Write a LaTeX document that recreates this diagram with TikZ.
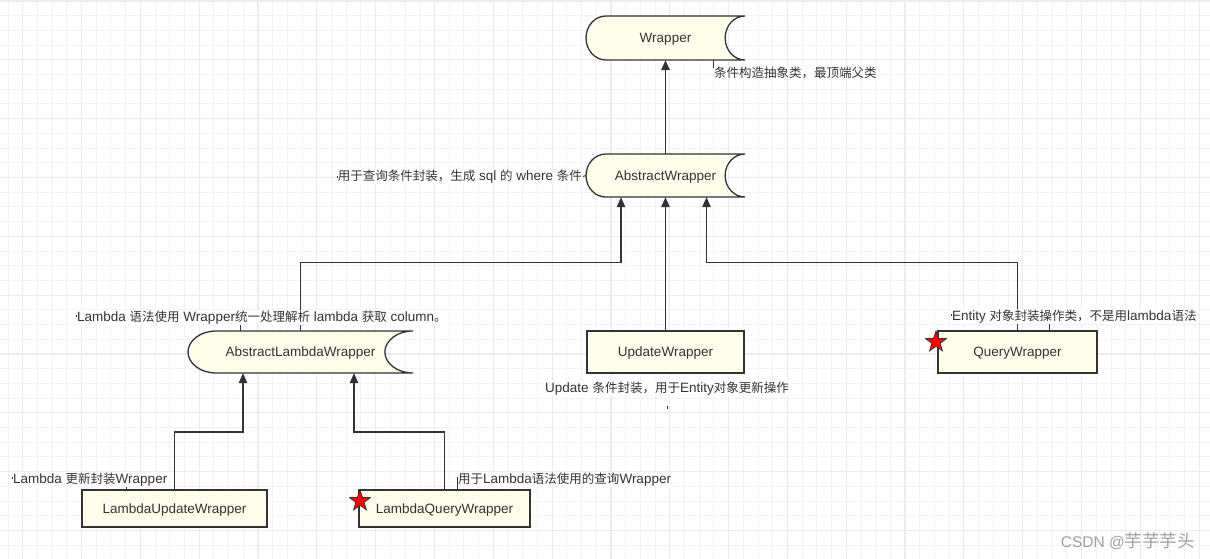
\documentclass[tikz,border=0pt]{standalone}
\usepackage{fontspec}
\setmainfont{Liberation Sans}
\newfontfamily\cjk[Scale=0.926]{Noto Sans CJK SC}
\newfontfamily\cjkw{Noto Sans CJK SC}
\usetikzlibrary{arrows.meta,shapes.geometric,calc}
\definecolor{ink}{HTML}{333333}
\definecolor{boxfill}{HTML}{FEFEEC}
\definecolor{gridmin}{HTML}{F3F3F3}
\definecolor{gridmaj}{HTML}{ECECEC}
\definecolor{wmark}{HTML}{A0A0A0}
\newcommand\zh[1]{{\cjk #1}}
\tikzset{
  every node/.style={font=\fontsize{13.5}{16}\selectfont},
  conn/.style={draw=ink, line width=1.3pt, -{Triangle[length=10pt,width=8.5pt]}},
  boxnode/.style={draw=ink, fill=boxfill, line width=1.3pt, inner sep=0pt, text=ink, text depth=0pt},
  sdnode/.style={inner sep=0pt, text=ink, text depth=0pt},
  sdpath/.style={draw=ink, fill=boxfill, line width=1.3pt},
  notelab/.style={fill=white, inner sep=1pt, text=ink},
  notetick/.style={draw=ink, line width=0.9pt},
  redstar/.style={star, star points=5, star point ratio=2.5, minimum size=22pt, inner sep=0pt, fill=red, draw=ink, line width=0.7pt},
  gridminor/.style={draw=gridmin, line width=0.9pt},
  gridmajor/.style={draw=gridmaj, line width=1.2pt}
}
% stored-data shape: name, x1, y1, x2, y2, text  (pixel coordinates, y downwards)
\newcommand\sdshape[6]{%
  \pgfmathsetmacro\sdr{0.125*(#4-#2)}%
  \pgfmathsetmacro\sdry{(#5-#3)/2}%
  \pgfmathsetmacro\sdym{(#3+#5)/2}%
  \pgfmathsetmacro\sdkr{0.5523*\sdr}%
  \pgfmathsetmacro\sdky{0.5523*\sdry}%
  \pgfmathsetmacro\sdw{#4-#2}%
  \pgfmathsetmacro\sdh{#5-#3}%
  \pgfmathsetmacro\sdcx{(#2+#4)/2}%
  \path[sdpath] ({#2+\sdr},#3) -- (#4,#3)
    .. controls ({#4-\sdkr},#3) and ({#4-\sdr},{\sdym-\sdky}) .. ({#4-\sdr},\sdym)
    .. controls ({#4-\sdr},{\sdym+\sdky}) and ({#4-\sdkr},#5) .. (#4,#5)
    -- ({#2+\sdr},#5)
    .. controls ({#2+\sdr-\sdkr},#5) and (#2,{\sdym+\sdky}) .. (#2,\sdym)
    .. controls (#2,{\sdym-\sdky}) and ({#2+\sdr-\sdkr},#3) .. ({#2+\sdr},#3) -- cycle;
  \node[sdnode, minimum width=\sdw pt, minimum height=\sdh pt] (#1) at (\sdcx,\sdym) {#6};
}
\begin{document}
\begin{tikzpicture}[x=1pt,y=-1pt]
\useasboundingbox (0,0) rectangle (1210,559);
\fill[white] (0,0) rectangle (1210,559);
% grid
\foreach \i in {0,...,81} { \draw[gridminor] ({8+14.706*\i},0) -- ({8+14.706*\i},559); }
\foreach \j in {0,...,37} { \draw[gridminor] (0,{1+14.706*\j}) -- (1210,{1+14.706*\j}); }
\foreach \i in {0,...,20} { \draw[gridmajor] ({22.7+58.824*\i},0) -- ({22.7+58.824*\i},559); }
\foreach \j in {0,...,9} { \draw[gridmajor] (0,{1+58.824*\j}) -- (1210,{1+58.824*\j}); }

% shapes
\sdshape{W}{586}{16}{745}{60}{Wrapper}
\sdshape{AW}{586}{154}{745}{197}{AbstractWrapper}
\sdshape{ALW}{188}{331}{413}{373}{AbstractLambdaWrapper}
\node[boxnode, minimum width=157pt, minimum height=42pt] (UW) at (665.5,352) {UpdateWrapper};
\node[boxnode, minimum width=159pt, minimum height=42pt] (QW) at (1017.5,352) {QueryWrapper};
\node[boxnode, minimum width=185pt, minimum height=37pt] (LUW) at (174.5,508.5) {LambdaUpdateWrapper};
\node[boxnode, minimum width=171pt, minimum height=37pt] (LQW) at (444.5,508.5) {LambdaQueryWrapper};

% connectors
\draw[conn] (AW.north) -- (W.south);
\draw[conn] (ALW.north) -- ++(0,-68) -| ([xshift=-44.5pt]AW.south);
\draw[conn] (UW.north) -- (AW.south);
\draw[conn] (QW.north) -- ++(0,-68) -| ([xshift=41pt]AW.south);
\draw[conn] (LUW.north) -- ++(0,-57.3) -| ([xshift=-57.5pt]ALW.south);
\draw[conn] (LQW.north) -- ++(0,-57.3) -| ([xshift=53.5pt]ALW.south);

% annotations
\node[notelab, anchor=west] (a1) at (713,72.5) {\zh{条件构造抽象类，最顶端父类}};
\node[notelab, anchor=east] (a2) at (583,176.5) {\zh{用于查询条件封装，生成} sql \zh{的} where \zh{条件}};
\node[notelab, anchor=west] (a3) at (76,317.5) {Lambda \zh{语法使用} Wrapper\zh{统一处理解析} lambda \zh{获取} column\zh{。}};
\node[notelab] (a4) at (667,388.5) {Update \zh{条件封装，用于}Entity\zh{对象更新操作}};
\node[notelab, anchor=west] (a5) at (951,316.5) {Entity \zh{对象封装操作类，不是用}lambda\zh{语法}};
\node[notelab, anchor=west] (a6) at (12,479.5) {Lambda \zh{更新封装}Wrapper};
\node[notelab, anchor=west] (a7) at (457,479.5) {\zh{用于}Lambda\zh{语法使用的查询}Wrapper};

% annotation ticks
\draw[notetick] (a1.west |- W.south) -- ([yshift=4pt]a1.west);
\draw[notetick] (a2.east) -- (AW.west);
\draw[notetick] ([xshift=-60.5pt]ALW.north) -- ([xshift=-60.5pt]ALW.north |- a3.south);
\draw[notetick] ([xshift=31.5pt]QW.north) -- ([xshift=31.5pt]QW.north |- a5.south);
\draw[notetick] ([xshift=-47.8pt]LUW.north) -- ([xshift=-47.8pt]LUW.north |- a6.south);
\draw[notetick] ([yshift=3pt]a7.west) -- (a7.west |- LQW.north);
\draw[notetick] ([yshift=-10pt]a4.south) -- ([yshift=-13pt]a4.south);
\draw[notetick, line width=0.6pt] ([xshift=0.5pt,yshift=1pt]a2.west) -- ([xshift=0.5pt,yshift=-1pt]a2.west);
\draw[notetick, line width=0.6pt] ([xshift=0.5pt,yshift=3pt]a3.west) -- ([xshift=0.5pt,yshift=1pt]a3.west);
\draw[notetick, line width=0.6pt] ([xshift=0.5pt,yshift=3pt]a5.west) -- ([xshift=0.5pt,yshift=1pt]a5.west);
\draw[notetick, line width=0.6pt] ([xshift=0.5pt,yshift=3pt]a6.west) -- ([xshift=0.5pt,yshift=1pt]a6.west);

% stars
\node[redstar] (s1) at (936,342) {};
\node[redstar] (s2) at (360,501) {};

% watermark
\node[anchor=east, inner sep=0pt, text=wmark, font=\fontsize{15.5}{18}\selectfont] (wm) at (1195,541) {CSDN @{\cjkw\fontsize{17.5}{20}\selectfont 芋芋芋头}};
\end{tikzpicture}
\end{document}
